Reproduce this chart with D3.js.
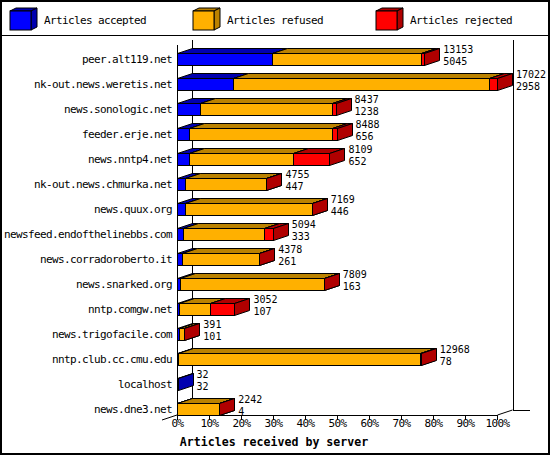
<!DOCTYPE html>
<html><head><meta charset="utf-8">
<script src="https://cdn.jsdelivr.net/npm/d3@7"></script>
<style>
html,body{margin:0;padding:0;background:#fff;}
svg{display:block;}
text{font-family:"DejaVu Sans Mono",monospace;fill:#000;}
</style></head>
<body>
<svg id="chart" width="550" height="455"></svg>
<script>
const categories = ["peer.alt119.net","nk-out.news.weretis.net","news.sonologic.net","feeder.erje.net","news.nntp4.net","nk-out.news.chmurka.net","news.quux.org","newsfeed.endofthelinebbs.com","news.corradoroberto.it","news.snarked.org","nntp.comgw.net","news.trigofacile.com","nntp.club.cc.cmu.edu","localhost","news.dne3.net"];
const accepted = [5045, 2958, 1238, 656, 652, 447, 446, 333, 261, 163, 107, 101, 78, 32, 4];
const refused  = [7928, 13617, 7009, 7582, 5505, 4278, 6713, 4321, 4107, 7636, 1668, 280, 12850, 0, 2228];
const rejected = [180, 447, 190, 250, 1952, 30, 10, 440, 10, 10, 1277, 10, 40, 0, 10];
const seriesNames = ["Articles accepted","Articles refused","Articles rejected"];
const tickPercents = [0,10,20,30,40,50,60,70,80,90,100];
const axisTitle = "Articles received by server";

const colors = ["#0000ff","#ffb000","#ff0000"];
const darks  = ["#0000b0","#bb8200","#b00000"];
const DX = 15, DY = 5;

const svg = d3.select("#chart");
const totals = categories.map((c,i)=>accepted[i]+refused[i]+rejected[i]);
const maxTotal = d3.max(totals);

const x = d3.scaleLinear().domain([0, maxTotal]).range([177, 497]);
const xPct = d3.scaleLinear().domain([0, 100]).range([177, 497]);
const y = d3.scaleBand().domain(categories).range([40, 428]).paddingInner(0.52).paddingOuter(0.52);

// frame
svg.append("rect").attr("x",1).attr("y",1).attr("width",548).attr("height",453)
  .attr("fill","none").attr("stroke","#000").attr("stroke-width",2);
const L = (x1,y1,x2,y2)=>svg.append("line").attr("x1",x1).attr("y1",y1).attr("x2",x2).attr("y2",y2)
  .attr("stroke","#000").attr("stroke-width",1);
L(0,35.5,550,35.5).attr("shape-rendering","crispEdges");

// legend
const legX = [10,193,376];
seriesNames.forEach((n,i)=>{
  const g = svg.append("g");
  const x0 = legX[i], y0 = 11, w = 21, h = 19, dx = 6, dy = 3;
  g.append("polygon").attr("points",[[x0,y0],[x0+dx,y0-dy],[x0+w+dx,y0-dy],[x0+w,y0]].join(" "))
    .attr("fill",darks[i]).attr("stroke","#000");
  g.append("polygon").attr("points",[[x0+w,y0],[x0+w+dx,y0-dy],[x0+w+dx,y0+h-dy],[x0+w,y0+h]].join(" "))
    .attr("fill",darks[i]).attr("stroke","#000");
  g.append("rect").attr("x",x0).attr("y",y0).attr("width",w).attr("height",h)
    .attr("fill",colors[i]).attr("stroke","#000");
  g.append("text").attr("x",x0+34).attr("y",24).attr("font-size",11).attr("letter-spacing",-0.62).text(n);
});

// walls / axes lines
L(177.5,45,177.5,415);
L(192.5,40,192.5,410);
L(513.5,40,513.5,410);
L(162,420,192,410);
L(177,415.5,498,415.5);
L(497.5,415,512.5,410);
L(513,410.5,530,410.5);

// bars
const bars = svg.append("g");
categories.forEach((c,i)=>{
  const vals = [accepted[i], refused[i], rejected[i]];
  let cum = 0;
  const top = y(c) + 0.5, bot = y(c) + y.bandwidth() + 0.5;
  vals.forEach((v,k)=>{
    if (v <= 0) return;
    const x0 = Math.round(x(cum)) + 0.5, x1 = Math.round(x(cum+v)) + 0.5;
    cum += v;
    bars.append("polygon").attr("points",[[x0,top],[x0+DX,top-DY],[x1+DX,top-DY],[x1,top]].join(" "))
      .attr("fill",darks[k]).attr("stroke","#000");
    bars.append("polygon").attr("points",[[x1,top],[x1+DX,top-DY],[x1+DX,bot-DY],[x1,bot]].join(" "))
      .attr("fill",darks[k]).attr("stroke","#000");
    bars.append("rect").attr("x",x0).attr("y",top).attr("width",Math.max(0,x1-x0)).attr("height",bot-top)
      .attr("fill",colors[k]).attr("stroke","#000");
  });
  const cy = y(c) + y.bandwidth()/2;
  const lx = x(totals[i]) + DX + 4;
  svg.append("text").attr("x",lx).attr("y",cy-6).attr("font-size",10).text(totals[i]);
  svg.append("text").attr("x",lx).attr("y",cy+6).attr("font-size",10).text(accepted[i]);
});

// category axis
const ya = svg.append("g").attr("transform","translate(177,0)")
  .call(d3.axisLeft(y).tickSize(0).tickPadding(5));
ya.select(".domain").remove();
ya.selectAll("text").attr("font-family","DejaVu Sans Mono").attr("font-size",11).attr("letter-spacing",-0.62).attr("fill","#000");

// x axis
const xa = svg.append("g").attr("transform","translate(0,415.5)")
  .call(d3.axisBottom(xPct).tickValues(tickPercents).tickFormat(d=>d+"%").tickSize(4).tickPadding(0));
xa.select(".domain").remove();
xa.selectAll("line").attr("stroke","#000").attr("shape-rendering","crispEdges");
xa.selectAll("text").attr("font-family","DejaVu Sans Mono").attr("font-size",11).attr("letter-spacing",-0.62).attr("fill","#000");

svg.append("text").attr("x",274).attr("y",446).attr("text-anchor","middle")
  .attr("font-size",11.6).attr("font-weight","bold").text(axisTitle);
</script>
</body></html>
